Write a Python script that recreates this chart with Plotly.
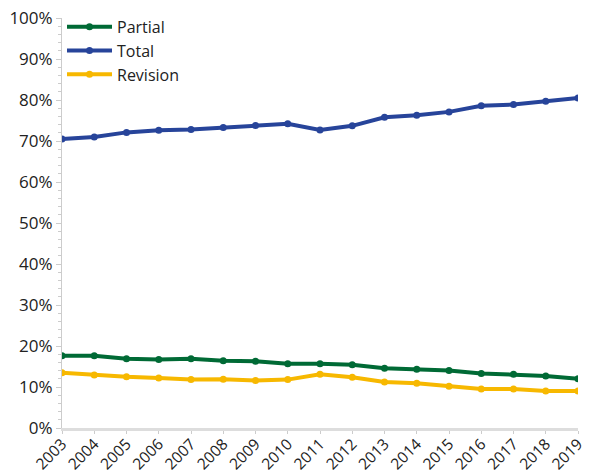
import plotly.graph_objects as go

years = [str(y) for y in range(2003, 2020)]
partial = [17.6, 17.6, 16.9, 16.7, 16.9, 16.4, 16.3, 15.7, 15.7, 15.4, 14.6, 14.3, 14.0, 13.3, 13.1, 12.7, 12.0]
total = [70.5, 71.0, 72.1, 72.6, 72.8, 73.3, 73.8, 74.2, 72.7, 73.7, 75.8, 76.3, 77.1, 78.6, 78.9, 79.7, 80.5]
revision = [13.5, 12.9, 12.5, 12.2, 11.8, 11.9, 11.6, 11.8, 13.1, 12.4, 11.2, 10.9, 10.2, 9.5, 9.5, 9.0, 9.0]

series = [("Partial", partial, "#006a35"), ("Total", total, "#27449a"), ("Revision", revision, "#f7b800")]

fig = go.Figure()
for name, vals, col in series:
    fig.add_trace(go.Scatter(
        x=years, y=[v / 100 for v in vals], name=name, mode="lines+markers",
        line=dict(color=col, width=4), marker=dict(color=col, size=7),
    ))

fig.update_layout(
    width=582, height=467,
    margin=dict(l=54, r=12, t=10, b=47, autoexpand=False),
    paper_bgcolor="white", plot_bgcolor="white",
    font=dict(family="Open Sans, Noto Sans, sans-serif", size=17, color="#222222"),
    showlegend=True,
    legend=dict(x=0.0, y=1.02, xanchor="left", yanchor="top", bgcolor="rgba(0,0,0,0)",
                font=dict(size=16), itemwidth=45, tracegroupgap=0),
    xaxis=dict(
        type="category", range=[0, 16], showgrid=False, zeroline=False,
        showline=True, linecolor="#dddddd", linewidth=3,
        ticks="outside", ticklen=3, tickcolor="#cccccc", tickangle=-45,
        tickfont=dict(size=15.5), automargin=False, ticklabeloverflow="allow",
        ticklabelstandoff=-5,
    ),
    yaxis=dict(
        range=[0, 1], tickformat=".0%", dtick=0.1, showgrid=False, zeroline=False,
        showline=True, linecolor="#cccccc", linewidth=1,
        ticks="outside", ticklen=5, tickcolor="#cccccc",
        minor=dict(dtick=0.02, ticks="outside", ticklen=3, tickcolor="#cccccc"),
        tickfont=dict(size=17), automargin=False, ticklabeloverflow="allow",
    ),
)

fig.write_html("out.html")
